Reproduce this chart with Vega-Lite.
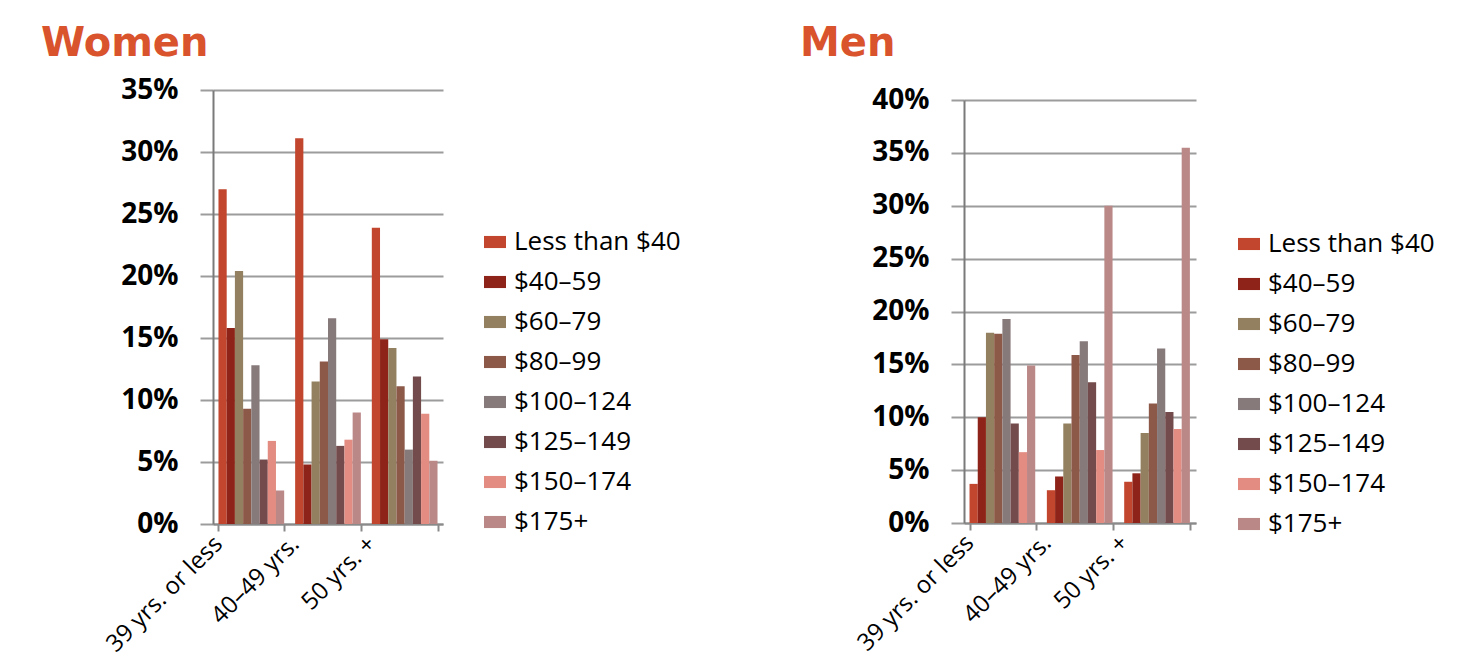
{
  "$schema": "https://vega.github.io/schema/vega-lite/v6.json",
  "background": "white",
  "padding": {"left": 41, "top": 24, "right": 5, "bottom": 5},
  "datasets": {
    "spend": [
      {"sex": "Women", "age": "39 yrs. or less", "income": "Less than $40", "pct": 27.0},
      {"sex": "Women", "age": "39 yrs. or less", "income": "$40–59", "pct": 15.8},
      {"sex": "Women", "age": "39 yrs. or less", "income": "$60–79", "pct": 20.4},
      {"sex": "Women", "age": "39 yrs. or less", "income": "$80–99", "pct": 9.3},
      {"sex": "Women", "age": "39 yrs. or less", "income": "$100–124", "pct": 12.8},
      {"sex": "Women", "age": "39 yrs. or less", "income": "$125–149", "pct": 5.2},
      {"sex": "Women", "age": "39 yrs. or less", "income": "$150–174", "pct": 6.7},
      {"sex": "Women", "age": "39 yrs. or less", "income": "$175+", "pct": 2.7},
      {"sex": "Women", "age": "40–49 yrs.", "income": "Less than $40", "pct": 31.1},
      {"sex": "Women", "age": "40–49 yrs.", "income": "$40–59", "pct": 4.8},
      {"sex": "Women", "age": "40–49 yrs.", "income": "$60–79", "pct": 11.5},
      {"sex": "Women", "age": "40–49 yrs.", "income": "$80–99", "pct": 13.1},
      {"sex": "Women", "age": "40–49 yrs.", "income": "$100–124", "pct": 16.6},
      {"sex": "Women", "age": "40–49 yrs.", "income": "$125–149", "pct": 6.3},
      {"sex": "Women", "age": "40–49 yrs.", "income": "$150–174", "pct": 6.8},
      {"sex": "Women", "age": "40–49 yrs.", "income": "$175+", "pct": 9.0},
      {"sex": "Women", "age": "50 yrs. +", "income": "Less than $40", "pct": 23.9},
      {"sex": "Women", "age": "50 yrs. +", "income": "$40–59", "pct": 14.9},
      {"sex": "Women", "age": "50 yrs. +", "income": "$60–79", "pct": 14.2},
      {"sex": "Women", "age": "50 yrs. +", "income": "$80–99", "pct": 11.1},
      {"sex": "Women", "age": "50 yrs. +", "income": "$100–124", "pct": 6.0},
      {"sex": "Women", "age": "50 yrs. +", "income": "$125–149", "pct": 11.9},
      {"sex": "Women", "age": "50 yrs. +", "income": "$150–174", "pct": 8.9},
      {"sex": "Women", "age": "50 yrs. +", "income": "$175+", "pct": 5.1},
      {"sex": "Men", "age": "39 yrs. or less", "income": "Less than $40", "pct": 3.7},
      {"sex": "Men", "age": "39 yrs. or less", "income": "$40–59", "pct": 10.0},
      {"sex": "Men", "age": "39 yrs. or less", "income": "$60–79", "pct": 18.0},
      {"sex": "Men", "age": "39 yrs. or less", "income": "$80–99", "pct": 17.9},
      {"sex": "Men", "age": "39 yrs. or less", "income": "$100–124", "pct": 19.3},
      {"sex": "Men", "age": "39 yrs. or less", "income": "$125–149", "pct": 9.4},
      {"sex": "Men", "age": "39 yrs. or less", "income": "$150–174", "pct": 6.7},
      {"sex": "Men", "age": "39 yrs. or less", "income": "$175+", "pct": 14.9},
      {"sex": "Men", "age": "40–49 yrs.", "income": "Less than $40", "pct": 3.1},
      {"sex": "Men", "age": "40–49 yrs.", "income": "$40–59", "pct": 4.4},
      {"sex": "Men", "age": "40–49 yrs.", "income": "$60–79", "pct": 9.4},
      {"sex": "Men", "age": "40–49 yrs.", "income": "$80–99", "pct": 15.9},
      {"sex": "Men", "age": "40–49 yrs.", "income": "$100–124", "pct": 17.2},
      {"sex": "Men", "age": "40–49 yrs.", "income": "$125–149", "pct": 13.3},
      {"sex": "Men", "age": "40–49 yrs.", "income": "$150–174", "pct": 6.9},
      {"sex": "Men", "age": "40–49 yrs.", "income": "$175+", "pct": 30.0},
      {"sex": "Men", "age": "50 yrs. +", "income": "Less than $40", "pct": 3.9},
      {"sex": "Men", "age": "50 yrs. +", "income": "$40–59", "pct": 4.7},
      {"sex": "Men", "age": "50 yrs. +", "income": "$60–79", "pct": 8.5},
      {"sex": "Men", "age": "50 yrs. +", "income": "$80–99", "pct": 11.3},
      {"sex": "Men", "age": "50 yrs. +", "income": "$100–124", "pct": 16.5},
      {"sex": "Men", "age": "50 yrs. +", "income": "$125–149", "pct": 10.5},
      {"sex": "Men", "age": "50 yrs. +", "income": "$150–174", "pct": 8.9},
      {"sex": "Men", "age": "50 yrs. +", "income": "$175+", "pct": 35.5}
    ]
  },
  "config": {
    "font": "Open Sans",
    "view": {"stroke": null},
    "bar": {"stroke": null},
    "axisX": {
      "domainColor": "#8a8a8a", "domainWidth": 2,
      "tickColor": "#8a8a8a", "tickWidth": 2, "tickSize": 7, "tickBand": "extent",
      "labelFont": "Open Sans", "labelFontSize": 24, "labelColor": "#000000",
      "labelAngle": -45, "labelAlign": "right", "labelBaseline": "middle",
      "labelPadding": 9, "labelOffset": -33,
      "grid": false, "title": null
    },
    "axisY": {
      "domainColor": "#7a7a7a", "domainWidth": 2,
      "gridColor": "#9c9c9c", "gridWidth": 2, "gridOpacity": 1,
      "tickColor": "#9c9c9c", "tickWidth": 2, "tickSize": 13,
      "labelFont": "Open Sans", "labelFontSize": 28, "labelFontWeight": "bold", "labelColor": "#000000",
      "labelPadding": 22, "title": null
    },
    "legend": {
      "orient": "none", "title": null, "padding": 0,
      "labelFont": "Open Sans", "labelFontSize": 26, "labelColor": "#000000", "labelOffset": 6, "labelLimit": 400,
      "symbolType": "M-1,-0.55L1,-0.55L1,0.55L-1,0.55Z", "symbolSize": 484,
      "symbolStrokeWidth": 0, "symbolOpacity": 1, "rowPadding": 14
    },
    "title": {
      "font": "DejaVu Sans", "fontWeight": "bold", "fontSize": 40, "color": "#d9532c",
      "anchor": "start", "frame": "group"
    }
  },
  "resolve": {"scale": {"color": "independent", "y": "independent"}, "legend": {"color": "independent"}},
  "spacing": 119,
  "hconcat": [
    {
      "data": {"name": "spend"},
      "transform": [{"filter": "datum.sex === 'Women'"}],
      "title": {"text": "Women", "dx": -172, "offset": 12},
      "width": 230,
      "height": 434,
      "mark": {"type": "bar"},
      "encoding": {
        "x": {"field": "age", "type": "nominal", "sort": ["39 yrs. or less", "40–49 yrs.", "50 yrs. +"],
              "scale": {"paddingInner": 0.143, "paddingOuter": 0.0715}},
        "xOffset": {"field": "income", "type": "nominal",
                    "sort": ["Less than $40", "$40–59", "$60–79", "$80–99", "$100–124", "$125–149", "$150–174", "$175+"],
                    "scale": {"paddingInner": 0, "paddingOuter": 0}},
        "y": {"field": "pct", "type": "quantitative", "scale": {"domain": [0, 35], "nice": false},
              "axis": {"values": [0, 5, 10, 15, 20, 25, 30, 35], "labelExpr": "datum.value + '%'"}},
        "color": {"field": "income", "type": "nominal",
                  "scale": {"domain": ["Less than $40", "$40–59", "$60–79", "$80–99", "$100–124", "$125–149", "$150–174", "$175+"],
                            "range": ["#c2452d", "#8e2419", "#928060", "#8c5848", "#877a7b", "#734b4c", "#e28c82", "#bb8888"]},
                  "legend": {"legendX": 269, "legendY": 139}}
      }
    },
    {
      "data": {"name": "spend"},
      "transform": [{"filter": "datum.sex === 'Men'"}],
      "title": {"text": "Men", "dx": -164, "offset": 22},
      "width": 232,
      "height": 433,
      "mark": {"type": "bar"},
      "encoding": {
        "x": {"field": "age", "type": "nominal", "sort": ["39 yrs. or less", "40–49 yrs.", "50 yrs. +"],
              "scale": {"paddingInner": 0.143, "paddingOuter": 0.0715}},
        "xOffset": {"field": "income", "type": "nominal",
                    "sort": ["Less than $40", "$40–59", "$60–79", "$80–99", "$100–124", "$125–149", "$150–174", "$175+"],
                    "scale": {"paddingInner": 0, "paddingOuter": 0}},
        "y": {"field": "pct", "type": "quantitative", "scale": {"domain": [0, 40.95], "nice": false},
              "axis": {"values": [0, 5, 10, 15, 20, 25, 30, 35, 40], "labelExpr": "datum.value + '%'", "domainDash": [423, 40]}},
        "color": {"field": "income", "type": "nominal",
                  "scale": {"domain": ["Less than $40", "$40–59", "$60–79", "$80–99", "$100–124", "$125–149", "$150–174", "$175+"],
                            "range": ["#c2452d", "#8e2419", "#928060", "#8c5848", "#877a7b", "#734b4c", "#e28c82", "#bb8888"]},
                  "legend": {"legendX": 272, "legendY": 141}}
      }
    }
  ]
}
